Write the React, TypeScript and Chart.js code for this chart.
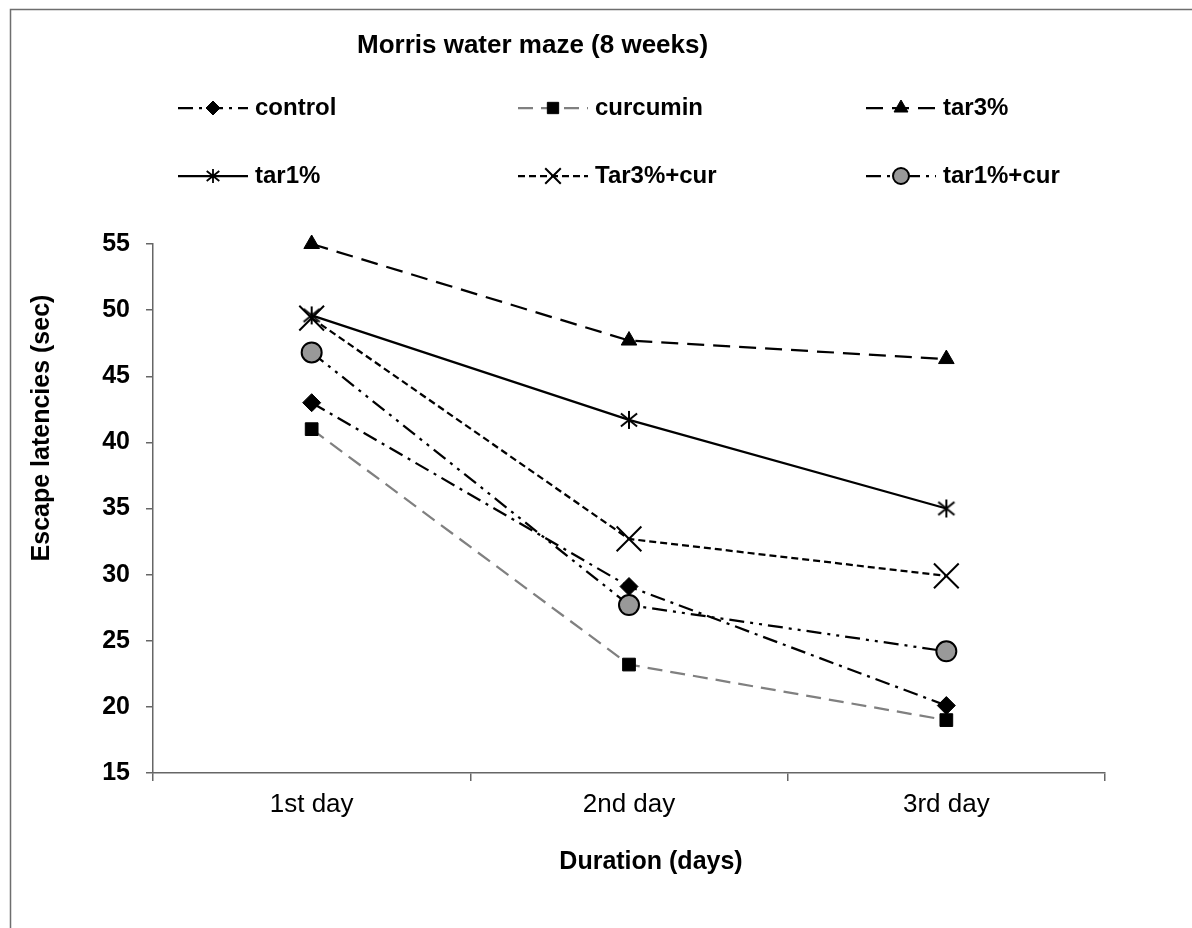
import React, { useEffect, useRef } from "react";
import { Chart, registerables } from "chart.js";
import { drawPoint } from "chart.js/helpers";

Chart.register(...registerables);

// ---------- data ----------
const categories = ["1st day", "2nd day", "3rd day"];
const seriesNames = ["control", "curcumin", "tar3%", "tar1%", "Tar3%+cur", "tar1%+cur"];
const controlValues = [43.0, 29.1, 20.1];
const curcuminValues = [41.0, 23.2, 19.0];
const tar3Values = [55.0, 47.7, 46.3];
const tar1Values = [49.6, 41.7, 35.0];
const tar3CurValues = [49.4, 32.7, 29.9];
const tar1CurValues = [46.8, 27.7, 24.2];
const yMin = 15;
const yMax = 55;
const yStep = 5;
const titleText = "Morris water maze (8 weeks)";
const xAxisTitle = "Duration (days)";
const yAxisTitle = "Escape latencies (sec)";

const seriesValues = [controlValues, curcuminValues, tar3Values, tar1Values, tar3CurValues, tar1CurValues];

// ---------- styles ----------
const FONT = '"Liberation Sans", Arial, Helvetica, sans-serif';
const W = 1192;
const H = 928;

function makeAsterisk(size: number, lw: number): HTMLCanvasElement {
  const c = document.createElement("canvas");
  c.width = size;
  c.height = size;
  const g = c.getContext("2d")!;
  g.strokeStyle = "#000";
  g.lineWidth = lw;
  const m = size / 2;
  const a = size / 2 - 1;
  const dx = a * 0.9;
  const dy = a * 0.72;
  g.beginPath();
  g.moveTo(m, m - a);
  g.lineTo(m, m + a);
  g.moveTo(m - dx, m - dy);
  g.lineTo(m + dx, m + dy);
  g.moveTo(m - dx, m + dy);
  g.lineTo(m + dx, m - dy);
  g.stroke();
  return c;
}

type Style = {
  color: string;
  dash: number[];
  pointStyle: any;
  legendPointStyle: any;
  radius: number;
  legendRadius: number;
  fill: string;
  stroke: string;
  pbw: number;
};

function buildStyles(): Style[] {
  const ast = makeAsterisk(20, 2);
  const astSmall = makeAsterisk(16, 1.8);
  return [
    { color: "#000", dash: [15, 6, 3, 6], pointStyle: "rectRot", legendPointStyle: "rectRot", radius: 9, legendRadius: 7, fill: "#000", stroke: "#000", pbw: 1 },
    { color: "#808080", dash: [15, 8], pointStyle: "rect", legendPointStyle: "rect", radius: 9, legendRadius: 8, fill: "#000", stroke: "#000", pbw: 1 },
    { color: "#000", dash: [17, 9], pointStyle: "triangle", legendPointStyle: "triangle", radius: 9, legendRadius: 8, fill: "#000", stroke: "#000", pbw: 1 },
    { color: "#000", dash: [], pointStyle: ast, legendPointStyle: astSmall, radius: 10, legendRadius: 8, fill: "#000", stroke: "#000", pbw: 2 },
    { color: "#000", dash: [7, 4], pointStyle: "crossRot", legendPointStyle: "crossRot", radius: 17.5, legendRadius: 11, fill: "#000", stroke: "#000", pbw: 2 },
    { color: "#000", dash: [15, 6, 3, 6, 3, 6], pointStyle: "circle", legendPointStyle: "circle", radius: 10, legendRadius: 8, fill: "#999999", stroke: "#000", pbw: 2 },
  ];
}

const legendCols = [178, 518, 866];
const legendRows = [108, 176];

export default function App() {
  const ref = useRef<HTMLCanvasElement | null>(null);

  useEffect(() => {
    const canvas = ref.current;
    if (!canvas) return;
    const styles = buildStyles();

    const overlay = {
      id: "overlay",
      afterDraw(chart: any) {
        const ctx: CanvasRenderingContext2D = chart.ctx;
        ctx.save();
        // outer frame
        ctx.setLineDash([]);
        ctx.strokeStyle = "#6e6e6e";
        ctx.lineWidth = 1.5;
        ctx.beginPath();
        ctx.moveTo(10.5, H);
        ctx.lineTo(10.5, 9.5);
        ctx.lineTo(W, 9.5);
        ctx.stroke();

        // title
        ctx.fillStyle = "#000";
        ctx.font = `bold 26px ${FONT}`;
        ctx.textBaseline = "middle";
        ctx.textAlign = "left";
        ctx.fillText(titleText, 357, 46);

        // legend
        seriesNames.forEach((name, i) => {
          const st = styles[i];
          const x0 = legendCols[i % 3];
          const y0 = legendRows[Math.floor(i / 3)];
          ctx.save();
          ctx.strokeStyle = st.color;
          ctx.lineWidth = 2.25;
          ctx.setLineDash(st.dash);
          ctx.beginPath();
          ctx.moveTo(x0, y0);
          ctx.lineTo(x0 + 70, y0);
          ctx.stroke();
          ctx.setLineDash([]);
          ctx.fillStyle = st.fill;
          ctx.strokeStyle = st.stroke;
          ctx.lineWidth = st.pbw;
          drawPoint(ctx, { pointStyle: st.legendPointStyle, rotation: 0, radius: st.legendRadius, borderWidth: st.pbw } as any, x0 + 35, y0);
          ctx.restore();
          ctx.fillStyle = "#000";
          ctx.font = `bold 24px ${FONT}`;
          ctx.textAlign = "left";
          ctx.textBaseline = "middle";
          ctx.fillText(name, x0 + 77, y0);
        });

        // axis titles
        ctx.font = `bold 25px ${FONT}`;
        ctx.textAlign = "center";
        ctx.textBaseline = "middle";
        ctx.fillText(xAxisTitle, 651, 862);
        ctx.translate(42, 428);
        ctx.rotate(-Math.PI / 2);
        ctx.fillText(yAxisTitle, 0, 0);
        ctx.restore();
      },
    };

    const chart = new Chart(canvas, {
      type: "line",
      data: {
        labels: categories,
        datasets: seriesNames.map((name, i) => ({
          label: name,
          data: seriesValues[i],
          borderColor: styles[i].color,
          borderWidth: 2.25,
          borderDash: styles[i].dash,
          fill: false,
          tension: 0,
          clip: false,
          pointStyle: styles[i].pointStyle,
          pointRadius: styles[i].radius,
          pointHoverRadius: styles[i].radius,
          pointBackgroundColor: styles[i].fill,
          pointBorderColor: styles[i].stroke,
          pointBorderWidth: styles[i].pbw,
        })),
      },
      options: {
        responsive: false,
        animation: false,
        devicePixelRatio: 1,
        layout: { padding: { top: 244, right: 87, left: 0, bottom: 0 } },
        plugins: {
          legend: { display: false },
          title: { display: false },
          tooltip: { enabled: false },
        },
        scales: {
          x: {
            type: "category",
            offset: true,
            grid: { offset: true, drawOnChartArea: false, tickLength: 8, color: "#666", lineWidth: 1.5 },
            border: { display: true, color: "#666", width: 1.5 },
            ticks: { color: "#000", font: { family: FONT, size: 26 }, padding: 8, maxRotation: 0 },
            afterFit: (s: any) => {
              s.height = H - 773;
            },
          },
          y: {
            min: yMin,
            max: yMax,
            grid: { drawOnChartArea: false, tickLength: 7, color: "#666", lineWidth: 1.5 },
            border: { display: true, color: "#666", width: 1.5 },
            ticks: { stepSize: yStep, color: "#000", font: { family: FONT, size: 25, weight: "bold" }, padding: 16 },
            afterFit: (s: any) => {
              s.width = 153;
            },
          },
        },
      },
      plugins: [overlay],
    } as any);

    return () => chart.destroy();
  }, []);

  return (
    <div style={{ position: "absolute", left: 0, top: 0, width: W, height: H, background: "#fff" }}>
      <canvas ref={ref} width={W} height={H} />
    </div>
  );
}
